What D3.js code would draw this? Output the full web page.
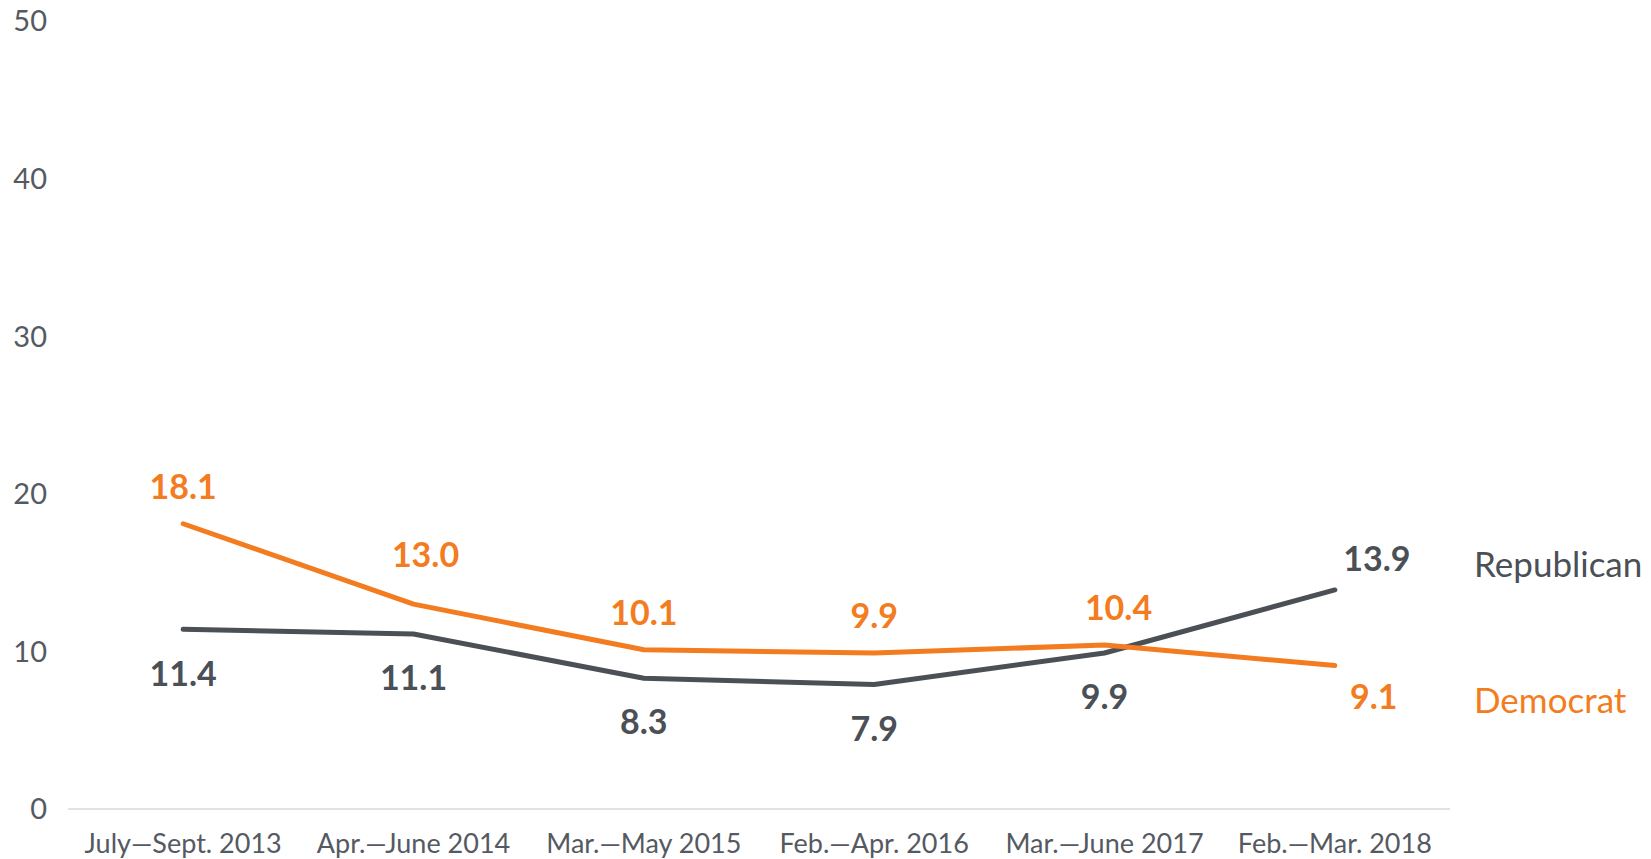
<!DOCTYPE html>
<html lang="en">
<head>
    <meta charset="UTF-8">
    <title>Republican vs Democrat</title>
    <style>
        body {
            margin: 0;
            background: #fff;
        }
        text {
            font-family: Lato, "Noto Sans", sans-serif;
        }
    </style>
</head>
<body>
    <script src="https://d3js.org/d3.v7.min.js"></script>

    <script type="text/javascript">
        // Survey periods along the x axis
        var periods = ["July\u2014Sept. 2013", "Apr.\u2014June 2014", "Mar.\u2014May 2015",
                       "Feb.\u2014Apr. 2016", "Mar.\u2014June 2017", "Feb.\u2014Mar. 2018"];

        // Values for each party, one per period
        var republican = [11.4, 11.1, 8.3, 7.9, 9.9, 13.9];
        var democrat = [18.1, 13.0, 10.1, 9.9, 10.4, 9.1];

        // Y axis ticks
        var yTicks = [0, 10, 20, 30, 40, 50];

        var width = 1651;
        var height = 859;

        var grey = "#4b4f56";
        var orange = "#f47c20";

        var svg = d3.select("body")
                    .append("svg")
                    .attr("width", width)
                    .attr("height", height);

        var x = d3.scaleBand()
                  .domain(periods)
                  .range([68, 1450]);

        var y = d3.scaleLinear()
                  .domain([0, 50])
                  .range([809, 21]);

        function cx(d, i) { return x(periods[i]) + x.bandwidth() / 2; }

        // baseline at zero
        svg.append("line")
           .attr("x1", 68).attr("x2", 1450)
           .attr("y1", y(0)).attr("y2", y(0))
           .attr("stroke", "#e2e2e2")
           .attr("stroke-width", 2);

        // y tick labels
        svg.selectAll("text.ytick")
           .data(yTicks)
           .enter()
           .append("text")
           .attr("class", "ytick")
           .attr("x", 47)
           .attr("y", function(d) { return y(d); })
           .attr("dy", "0.36em")
           .attr("text-anchor", "end")
           .attr("font-size", 29)
           .attr("fill", "#555a62")
           .text(function(d) { return d; });

        // x tick labels
        svg.selectAll("text.xtick")
           .data(periods)
           .enter()
           .append("text")
           .attr("class", "xtick")
           .attr("x", function(d) { return x(d) + x.bandwidth() / 2; })
           .attr("y", 843)
           .attr("dy", "0.36em")
           .attr("text-anchor", "middle")
           .attr("font-size", 27)
           .attr("fill", "#555a62")
           .text(function(d) { return d; });

        var line = d3.line()
                     .x(cx)
                     .y(function(d) { return y(d); });

        // lines
        [[republican, grey], [democrat, orange]].forEach(function(s) {
            svg.append("path")
               .datum(s[0])
               .attr("d", line)
               .attr("fill", "none")
               .attr("stroke", s[1])
               .attr("stroke-width", 5)
               .attr("stroke-linecap", "round")
               .attr("stroke-linejoin", "round");
        });

        // value labels: the higher series goes above, the lower below
        // small sideways nudges so labels clear the lines (last point sits to the right)
        function addLabels(vals, other, color, nudgeX) {
            svg.selectAll(null)
               .data(vals)
               .enter()
               .append("text")
               .attr("x", function(d, i) { return cx(d, i) + nudgeX[i]; })
               .attr("y", function(d, i) {
                   var last = i === vals.length - 1;
                   var above = d > other[i];
                   if (last) return above ? y(d) - 31 : y(d) + 31;
                   if (above) return y(d) - (i === 1 ? 49 : 37);
                   return y(d) + 44;
               })
               .attr("dy", "0.36em")
               .attr("text-anchor", "middle")
               .attr("font-size", 34)
               .attr("font-weight", "bold")
               .attr("fill", color)
               .text(function(d) { return d.toFixed(1); });
        }
        addLabels(republican, democrat, grey, [0, 0, 0, 0, 0, 42]);
        addLabels(democrat, republican, orange, [0, 12, 0, 0, 14, 39]);

        // series names at the end of the lines
        svg.append("text")
           .attr("x", 1474).attr("y", 564)
           .attr("dy", "0.36em")
           .attr("font-size", 35)
           .attr("fill", grey)
           .text("Republican");

        svg.append("text")
           .attr("x", 1474).attr("y", 700)
           .attr("dy", "0.36em")
           .attr("font-size", 35)
           .attr("fill", orange)
           .text("Democrat");
    </script>
</body>
</html>
